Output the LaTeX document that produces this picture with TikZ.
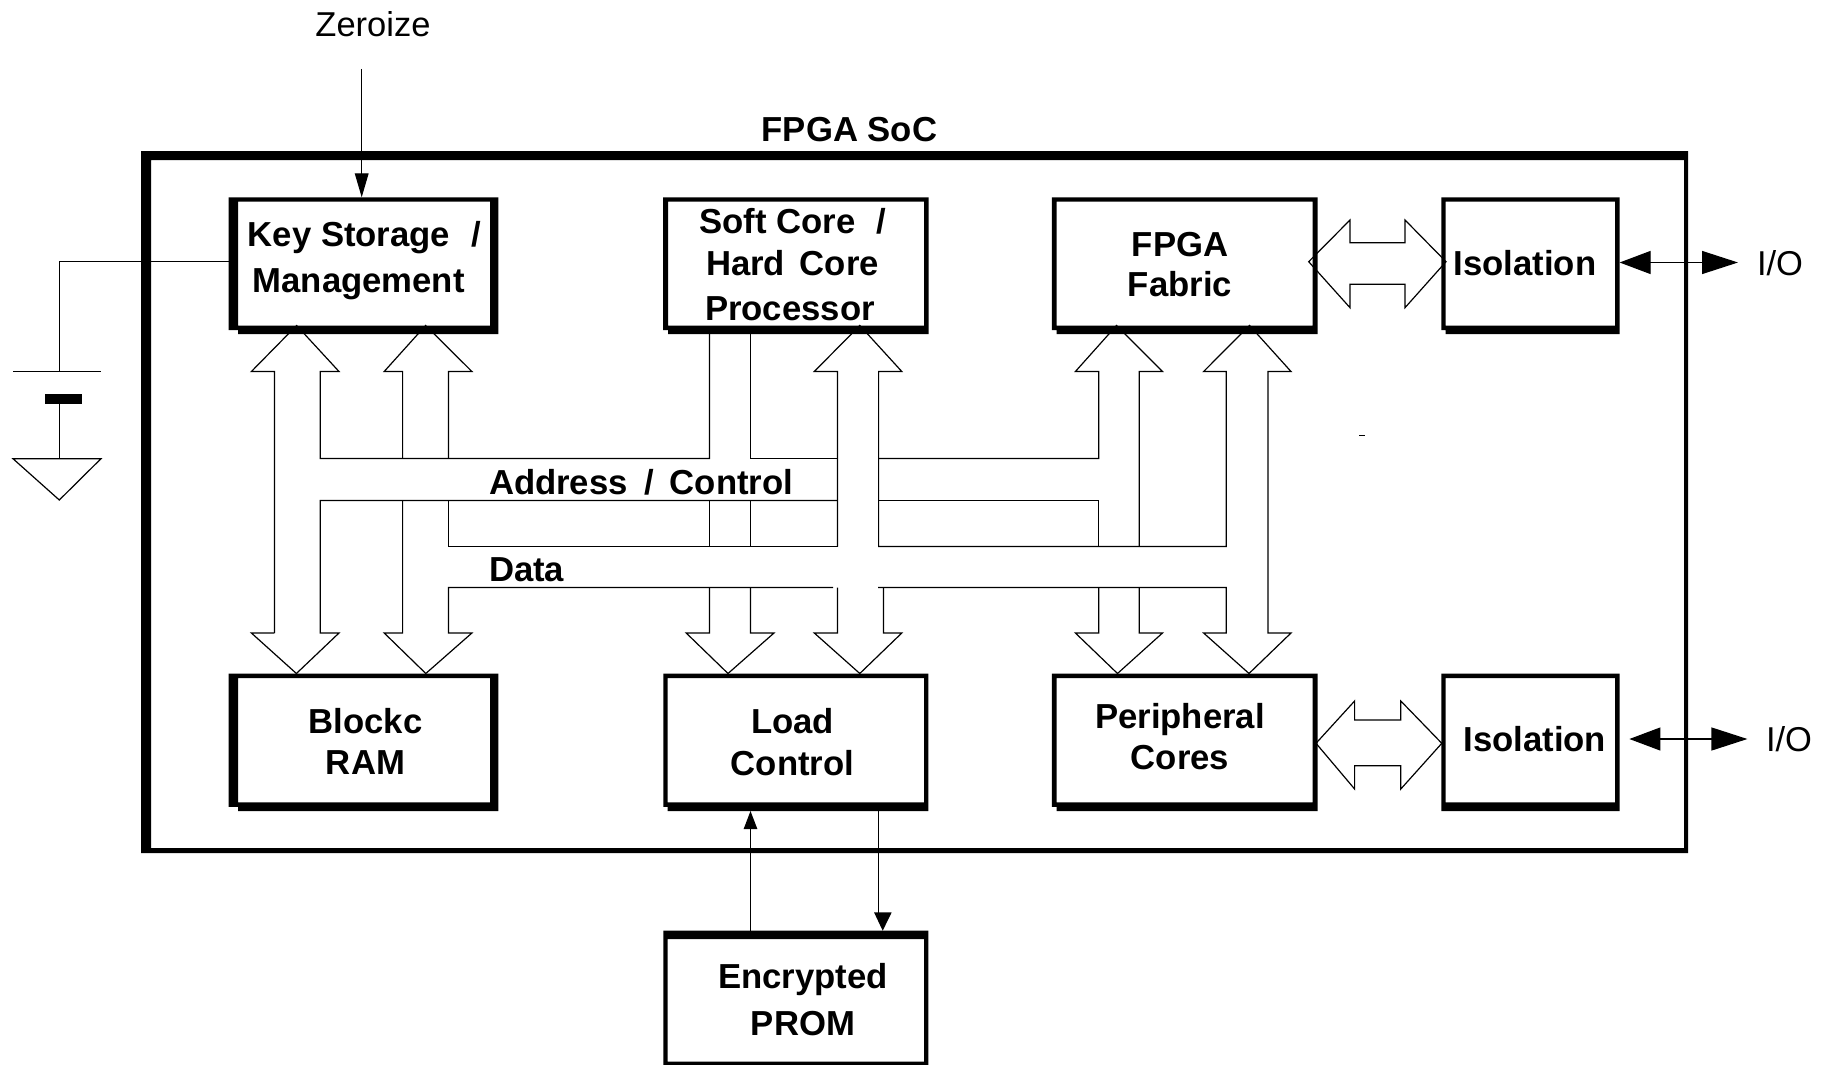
\documentclass[tikz,border=0pt]{standalone}
\usepackage{fontspec}
\setmainfont{Liberation Sans}
\usetikzlibrary{arrows.meta}
\newcommand{\nb}{4.5}
% name, oL, iL, iR, oR, oT, iT, iB, oB
\newcommand{\blockframe}[9]{%
  \fill[black,even odd rule] (#2,#6) -- (#5,#6) -- (#5,#9) -- (#3,#9) -- (#3,#8+\nb) -- (#2,#8+\nb) -- cycle
     (#3,#7) rectangle (#4,#8);
  \node[blocknode,minimum width={(#5-#2)*1pt},minimum height={(#9-#6)*1pt}] (#1) at ({(#2+#5)/2},{(#6+#9)/2}) {};
}
\tikzset{
  blocknode/.style={inner sep=0pt,outer sep=0pt,draw=none},
  wire/.style={draw=black,line width=1.2pt,line join=miter},
  lbl/.style={inner sep=0pt,outer sep=0pt,align=center,anchor=base,font=\fontsize{34.7}{42}\selectfont\bfseries},
  plainlbl/.style={inner sep=0pt,outer sep=0pt,anchor=base,font=\fontsize{34.5}{42}\selectfont},
  zhead/.style={-{Triangle[length=24pt,width=13.7pt]}},
}
\begin{document}
\begin{tikzpicture}[x=1pt,y=-1pt]
\useasboundingbox[fill=white] (0,0) rectangle (1829,1065);

% outer frame
\fill[black,even odd rule] (141,151) rectangle (1688,853) (151,160) rectangle (1684,848);
\node[blocknode,minimum width=1547pt,minimum height=702pt] (soc) at (914.5,502) {};

% blocks
\blockframe{key}{228.5}{238}{490}{498.3}{197.3}{201.7}{325.5}{334}
\blockframe{core}{663}{668}{924}{928.6}{197.3}{201.7}{325.5}{334}
\blockframe{fabric}{1051.8}{1056.7}{1312.6}{1317.5}{197.3}{201.7}{325.5}{334}
\blockframe{isoa}{1441.4}{1445.6}{1615}{1619.6}{197.3}{201.7}{325.5}{334}
\blockframe{ram}{228.5}{238}{490}{498.3}{673.5}{678}{802.3}{811}
\blockframe{load}{663.3}{667.7}{924}{928.3}{673.5}{678}{802.3}{811}
\blockframe{periph}{1051.8}{1056.7}{1312.6}{1317.5}{673.5}{678}{802.3}{811}
\renewcommand{\nb}{8.7}
\blockframe{isob}{1441.4}{1445.6}{1615}{1619.6}{673.5}{678}{802.3}{811}
\renewcommand{\nb}{4}
\blockframe{prom}{663.3}{667.7}{924}{928.3}{930.7}{939}{1061.7}{1065}

% block labels
\node[lbl] (keyt) at (358.7,292.8) {\hspace*{12pt}Key Storage \hspace{12pt}/\\[4.6pt]Management};
\node[lbl] (coret) at (792.5,320) {Soft Core \hspace{11pt}/\\Hard \hspace{5pt}Core\\[3pt]Processor\hspace*{5pt}};
\node[lbl] (fabrict) at (1180,296.8) {FPGA\\[-2pt]Fabric};
\node[lbl] (isoat) at (1525,275) {Isolation};
\node[lbl] (ramt) at (365.5,774.7) {Blockc\\[-1pt]RAM};
\node[lbl] (loadt) at (792.5,775) {Load\\Control};
\node[lbl] (periphr) at (1180,769) {Peripheral\\[-1.5pt]Cores};
\node[lbl] (isobt) at (1534.7,751.7) {Isolation};
\node[lbl] (promt) at (803,1035.5) {Encrypted\\[4.7pt]PROM};
\node[lbl] (soct) at (849.5,141) {FPGA SoC};
\node[lbl,anchor=base west] (addrt) at (489,494) {Address \hspace{7pt}/ \hspace{6pt}Control};
\node[lbl,anchor=base west] (datat) at (489,581) {Data};
\node[plainlbl] (zero) at (373,36.5) {Zeroize};
\node[plainlbl,anchor=base west] (ioa) at (1757,275) {I/O};
\node[plainlbl,anchor=base west] (iob) at (1766,751.7) {I/O};

% bus and block arrows, vertical
\draw[wire] (274.4,633) -- (274.4,371.5) -- (251.4,371.5) -- (296.6,325.5) -- (339,371.5) -- (320.3,371.5) -- (320.3,458.5) -- (709.4,458.5) -- (709.4,329);
\draw[wire] (274.4,633) -- (251.4,633) -- (296.4,673.5) -- (339,633) -- (320.3,633) -- (320.3,500.5) -- (837.5,500.5);
\draw[wire] (402.6,458.5) -- (402.6,371.5) -- (384.2,371.5) -- (425.6,325.5) -- (471.9,371.5) -- (448.5,371.5) -- (448.5,458.5);
\draw[wire] (448.5,500.5) -- (448.5,546.5) -- (837.5,546.5);
\draw[wire] (833,587.5) -- (448.5,587.5) -- (448.5,633) -- (471.9,633) -- (425.8,673.5) -- (384.2,633) -- (402.6,633) -- (402.6,500.5);
\draw[wire] (750.4,329) -- (750.4,458.5) -- (837.5,458.5);
\draw[wire] (709.4,500.5) -- (709.4,546.5);
\draw[wire] (750.4,500.5) -- (750.4,546.5);
\draw[wire] (709.4,587.5) -- (709.4,633) -- (686.2,633) -- (728,673.5) -- (774,633) -- (750.4,633) -- (750.4,587.5);
\draw[wire] (837.5,546.5) -- (837.5,371.5) -- (814.3,371.5) -- (859.8,325.5) -- (901.8,371.5) -- (878.6,371.5) -- (878.6,546.5) -- (1226.3,546.5) -- (1226.3,371.5) -- (1203.6,371.5) -- (1249.5,325.5) -- (1291,371.5) -- (1267.9,371.5) -- (1267.9,633) -- (1291,633) -- (1249,673.5) -- (1203.6,633) -- (1226.3,633) -- (1226.3,587.5) -- (878,587.5);
\draw[wire] (837.5,587.5) -- (837.5,633) -- (814.3,633) -- (859.8,673.5) -- (901.8,633) -- (883.5,633) -- (883.5,587.5);
\draw[wire] (878.6,458.5) -- (1098.7,458.5) -- (1098.7,371.5) -- (1075.4,371.5) -- (1116.5,325.5) -- (1162.5,371.5) -- (1139.3,371.5) -- (1139.3,546.5);
\draw[wire] (878.6,500.5) -- (1098.7,500.5) -- (1098.7,546.5);
\draw[wire] (1098.7,587.5) -- (1098.7,633) -- (1075.4,633) -- (1117.5,673.5) -- (1162.5,633) -- (1139.3,633) -- (1139.3,587.5);

% block arrows, horizontal
\draw[wire] (1308.7,261.7) -- (1350,220) -- (1350,242.7) -- (1405,242.7) -- (1405,220) -- (1446,261.7) -- (1405,307.7) -- (1405,284.3) -- (1350,284.3) -- (1350,307.7) -- cycle;
\draw[wire] (1316,743.3) -- (1354.6,701) -- (1354.6,720) -- (1400.8,720) -- (1400.8,701) -- (1441.8,743.3) -- (1400.8,789) -- (1400.8,765.7) -- (1354.6,765.7) -- (1354.6,789) -- cycle;

% Zeroize
\coordinate (zstart) at (361.7,69);
\draw[wire,zhead] (zstart) -- (zstart |- key.north);

% battery
\coordinate (wirey) at (0,261.3);
\coordinate (plate) at (59.3,371.3);
\coordinate (platel) at (13,371.3);
\coordinate (plater) at (101,371.3);
\coordinate (gnd) at (59.3,458.7);
\draw[wire] (key.west |- wirey) -- (plate |- wirey) -- (plate);
\draw[wire] (platel) -- (plater);
\fill[black] (45,394) rectangle (82,404);
\draw[wire] (59.3,404) -- (gnd);
\draw[wire] (13,458.7) -- (101,458.7) -- (59.3,500) -- cycle;

% I/O arrows
\coordinate (ioay) at (1738,262.5);
\coordinate (ioby) at (1747.4,739);
\draw[wire,{Triangle[length=31pt,width=23pt]}-{Triangle[length=36pt,width=23pt]}] (isoa.east |- ioay) -- (ioay);
\coordinate (iobl) at (1629.4,739);
\draw[wire,{Triangle[length=31pt,width=23pt]}-{Triangle[length=36pt,width=23pt]}] (iobl) -- (ioby);

% load - prom
\coordinate (upx) at (750.5,0);
\coordinate (dnx) at (878.3,0);
\draw[wire,-{Triangle[length=18pt,width=13.4pt]}] (upx |- prom.north) -- (upx |- load.south);
\draw[wire] (dnx |- load.south) -- (878.3,914);
\fill[black] (874,912.3) -- (891.7,912.3) -- (882.7,930.7) -- cycle;

% stray dash
\draw[line width=0.8pt] (1359,435) -- (1365,435);
\end{tikzpicture}
\end{document}
